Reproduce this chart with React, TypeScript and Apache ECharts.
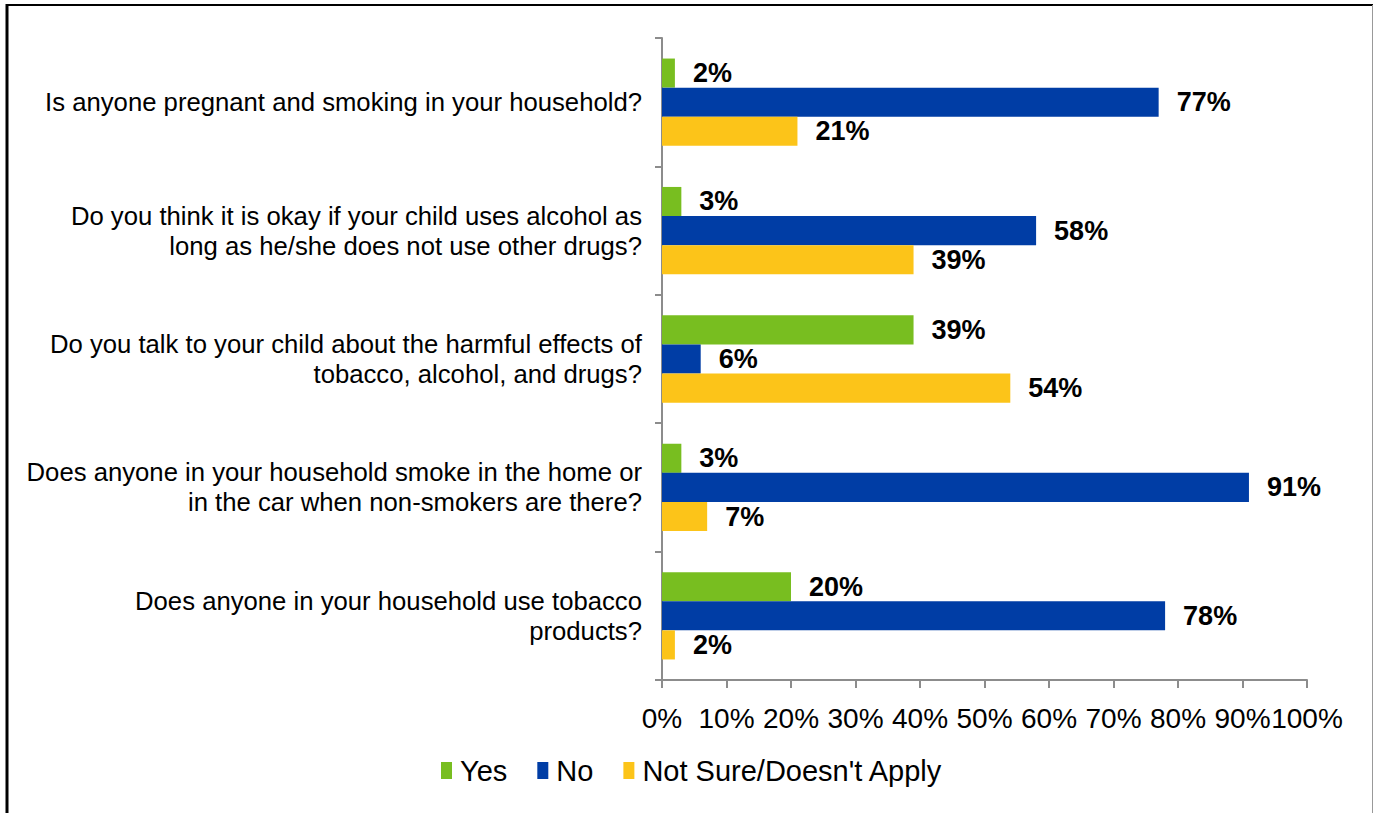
import React, { useEffect, useRef } from "react";
import * as echarts from "echarts";

const categories = [
  "Is anyone pregnant and smoking in your household?",
  "Do you think it is okay if your child uses alcohol as\nlong as he/she does not use other drugs?",
  "Do you talk to your child about the harmful effects of\ntobacco, alcohol, and drugs?",
  "Does anyone in your household smoke in the home or\nin the car when non-smokers are there?",
  "Does anyone in your household use tobacco\nproducts?",
];
const yesValues = [2, 3, 39, 3, 20];
const noValues = [77, 58, 6, 91, 78];
const notSureValues = [21, 39, 54, 7, 2];
const seriesNames = ["Yes", "No", "Not Sure/Doesn't Apply"];
const seriesColors = ["#78BE20", "#003DA5", "#FCC419"];

const FONT = "Arial, 'Liberation Sans', sans-serif";

export default function App() {
  const ref = useRef<HTMLDivElement>(null);
  useEffect(() => {
    document.body.style.margin = "0";
    const chart = echarts.init(ref.current!, null, { renderer: "svg" });
    const dataSets = [yesValues, noValues, notSureValues];
    chart.setOption({
      animation: false,
      textStyle: { fontFamily: FONT },
      grid: { left: 662, right: 67, top: 38, bottom: 133, containLabel: false },
      legend: {
        data: seriesNames,
        top: 756,
        left: 441,
        padding: 0,
        itemWidth: 11,
        itemHeight: 17,
        itemGap: 30,
        icon: "rect",
        textStyle: { fontSize: 29, color: "#000", fontFamily: FONT, padding: [0, 0, 0, 3] },
      },
      xAxis: {
        type: "value",
        min: 0,
        max: 100,
        interval: 10,
        splitLine: { show: false },
        axisLine: { show: true, lineStyle: { color: "#8c8c8c", width: 2 } },
        axisTick: { show: true, length: 8, lineStyle: { color: "#8c8c8c", width: 2 } },
        axisLabel: { formatter: "{value}%", fontSize: 28, color: "#000", margin: 24, fontFamily: FONT },
      },
      yAxis: {
        type: "category",
        inverse: true,
        data: categories,
        axisLine: { show: true, lineStyle: { color: "#8c8c8c", width: 2 } },
        axisTick: { show: true, length: 7, lineStyle: { color: "#8c8c8c", width: 2 } },
        axisLabel: { fontSize: 25.7, color: "#000", margin: 20, lineHeight: 30, align: "right", fontFamily: FONT },
      },
      graphic: [
        { type: "line", shape: { x1: 7, y1: 4, x2: 7, y2: 813 }, style: { stroke: "#000", lineWidth: 3 } },
        { type: "line", shape: { x1: 6, y1: 5, x2: 1373, y2: 5 }, style: { stroke: "#000", lineWidth: 2 } },
        { type: "line", shape: { x1: 1372.5, y1: 5, x2: 1372.5, y2: 813 }, style: { stroke: "#999", lineWidth: 1 } },
      ],
      series: dataSets.map((d, i) => ({
        name: seriesNames[i],
        type: "bar",
        data: d,
        barGap: "0%",
        barCategoryGap: "32%",
        itemStyle: { color: seriesColors[i] },
        label: {
          show: true,
          position: "right",
          distance: 18,
          formatter: "{c}%",
          fontSize: 27,
          fontWeight: "bold",
          color: "#000",
          fontFamily: FONT,
        },
      })),
    });
    return () => chart.dispose();
  }, []);
  return <div ref={ref} style={{ width: 1374, height: 813, background: "#fff" }} />;
}
